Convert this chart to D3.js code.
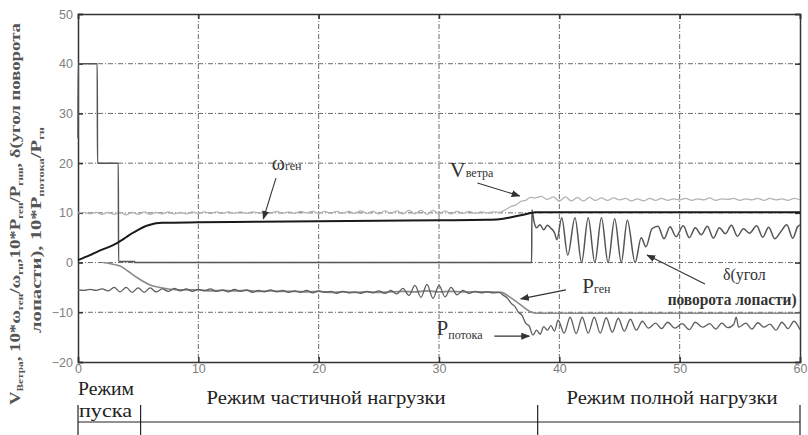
<!DOCTYPE html>
<html><head><meta charset="utf-8">
<script src="https://cdn.jsdelivr.net/npm/d3@7"></script>
<style>body{margin:0;background:#fff}svg{display:block}</style>
</head><body>
<svg id="c" width="808" height="435"></svg>
<script>
const xTicks = [0,10,20,30,40,50,60];
const yTicks = [-20,-10,0,10,20,30,40,50];
const gridX = [10,20,30,40,50];
const gridY = [-10,0,10,20,30,40];

// δ – blade pitch angle
const bladeAngle = [[0,25],[0.02,40],[1.6,40],[1.62,20],[3.35,20],[3.37,0.2],[4.7,0.2],[4.72,0],[37.7,0],[37.72,10.6],[37.9,8.2],[38.1,7.0],[38.4,7.6],[38.7,6.6],[39.0,7.5],[39.3,6.9],[39.6,6.0],[39.8,4.6],[40.2,9.0],[40.7,1.5],[41.3,9.0],[41.85,0],[42.4,9.0],[42.95,0],[43.5,9.0],[44.05,0],[44.6,8.8],[45.15,0],[45.65,8.5],[46.3,0],[46.8,5.0],[47.2,3.2],[47.7,6.8],[48.2,7.3],[48.7,4.8],[49.2,7.2],[49.7,5.2],[50.3,7.4],[50.8,5.0],[51.3,7.0],[51.8,5.6],[52.3,7.3],[52.8,4.9],[53.3,7.0],[53.8,5.8],[54.3,7.5],[54.8,5.3],[55.3,6.8],[55.8,5.9],[56.4,7.4],[56.9,5.1],[57.4,7.1],[57.9,4.8],[58.4,6.2],[58.9,7.6],[59.4,4.9],[59.8,7.2],[60,7.6]];

// ω_ген
const omegaGen = [[0,0.5],[1,1.5],[2,2.6],[3,3.6],[3.5,4.3],[4,5.1],[4.5,5.9],[5,6.6],[5.5,7.2],[6,7.6],[6.5,7.9],[7,8.0],[10,8.1],[15,8.2],[20,8.3],[25,8.4],[30,8.5],[34,8.6],[35,8.7],[36,9.1],[37,9.6],[37.7,10.0],[38,10.1],[60,10.1]];

// V_ветра
const windSpeed = [[0,10.0],[0.5,10.1],[1,9.8],[1.5,10.1],[2,9.7],[2.5,10.1],[3,9.7],[3.5,10.1],[4,9.6],[4.5,10.1],[5,9.7],[5.5,10.2],[6,9.7],[6.5,10.1],[7,9.8],[7.5,10.2],[8,9.8],[8.5,10.1],[9,9.8],[9.5,10.2],[10,9.9],[10.5,10.2],[11,9.9],[11.5,10.2],[12,9.9],[12.5,10.2],[13,9.9],[13.5,10.2],[14,9.9],[14.5,10.2],[15,10.0],[15.5,10.2],[16,9.9],[16.5,10.3],[17,9.9],[17.5,10.2],[18,9.9],[18.5,10.3],[19,10.0],[19.5,10.3],[20,9.9],[20.5,10.3],[21,9.9],[21.5,10.3],[22,9.9],[22.5,10.3],[23,9.9],[23.5,10.4],[24,9.9],[24.5,10.3],[25,9.8],[25.5,10.4],[26,9.9],[26.5,10.4],[27,9.8],[27.5,10.5],[28,9.8],[28.5,10.5],[29,9.7],[29.5,10.5],[30,9.8],[30.5,10.4],[31,9.8],[31.5,10.3],[32,9.9],[32.5,10.3],[33,9.9],[33.5,10.2],[34,10.0],[34.5,10.2],[35,10.1],[35.5,10.6],[36,11.3],[36.4,11.6],[36.8,12.3],[37.2,12.5],[37.6,13.1],[38,13.0],[38.5,13.3],[39,12.7],[39.5,13.2],[40,12.4],[40.5,13.2],[41,12.4],[41.5,13.1],[42,12.4],[42.5,13.1],[43,12.5],[43.5,13.0],[44,12.5],[44.5,13.0],[45,12.6],[45.5,12.9],[46,12.4],[46.5,12.8],[47,12.4],[47.5,12.9],[48,12.5],[48.5,12.9],[49,12.5],[49.5,12.8],[50,12.6],[50.5,12.9],[51,12.5],[51.5,12.8],[52,12.6],[52.5,13.0],[53,12.5],[53.5,12.8],[54,12.7],[54.5,12.9],[55,12.5],[55.5,12.8],[56,12.6],[56.5,12.9],[57,12.5],[57.5,12.9],[58,12.6],[58.5,12.8],[59,12.5],[59.5,12.9],[60,12.6]];

// P_ген
const powerGen = [[2.1,0],[2.8,-0.3],[3.5,-0.7],[4.2,-1.8],[4.9,-3.0],[5.5,-3.9],[6.1,-4.6],[6.8,-5.0],[7.5,-5.3],[8.5,-5.5],[10,-5.5],[11,-5.7],[12,-5.6],[13,-5.7],[14,-5.6],[15,-5.8],[16,-5.7],[17,-5.8],[18,-5.8],[19,-5.9],[20,-5.8],[21,-6.0],[22,-5.9],[23,-6.0],[24,-5.9],[25,-6.0],[26,-5.9],[27,-5.8],[28,-5.9],[29,-5.7],[30,-5.9],[31,-5.8],[32,-5.9],[33,-5.9],[34,-5.9],[35.2,-6.0],[35.8,-6.8],[36.4,-7.8],[37.0,-8.9],[37.6,-9.9],[38.2,-10.2],[60,-10.2]];

// P_потока
const powerFlow = [[0,-5.5],[0.5,-5.6],[1,-5.4],[1.5,-5.6],[2,-5.3],[2.5,-5.7],[3,-5.0],[3.5,-5.9],[4,-5.0],[4.5,-6.0],[5,-5.1],[5.5,-6.0],[6,-5.1],[6.5,-5.9],[7,-5.3],[7.5,-5.8],[8,-5.2],[8.5,-5.7],[9,-5.3],[9.5,-5.8],[10,-5.4],[10.5,-5.7],[11,-5.3],[11.5,-5.8],[12,-5.5],[12.5,-5.9],[13,-5.4],[13.5,-5.8],[14,-5.5],[14.5,-6.0],[15,-5.6],[15.5,-5.9],[16,-5.5],[16.5,-5.9],[17,-5.6],[17.5,-6.0],[18,-5.7],[18.5,-6.0],[19,-5.6],[19.5,-6.1],[20,-5.7],[20.5,-6.0],[21,-5.8],[21.5,-6.2],[22,-5.8],[22.5,-6.1],[23,-5.9],[23.5,-6.2],[24,-5.8],[24.5,-6.1],[25,-5.7],[25.5,-6.2],[26,-5.6],[26.5,-6.3],[27,-5.2],[27.5,-6.6],[28,-4.6],[28.5,-7.0],[29,-4.4],[29.5,-7.2],[30,-4.6],[30.5,-6.9],[31,-5.0],[31.5,-6.5],[32,-5.6],[32.5,-6.2],[33,-5.8],[33.5,-6.1],[34,-5.9],[34.5,-6.1],[35,-6.0],[35.3,-6.5],[35.7,-7.2],[36.0,-8.2],[36.3,-8.8],[36.6,-10.0],[36.9,-10.6],[37.2,-12.2],[37.5,-12.8],[37.8,-14.6],[38.1,-13.6],[38.4,-14.4],[38.7,-12.9],[39.0,-13.6],[39.3,-12.7],[39.6,-13.8],[39.9,-11.6],[40.4,-14.2],[40.9,-11.0],[41.4,-14.3],[41.9,-11.0],[42.4,-14.2],[42.9,-11.0],[43.4,-14.2],[43.9,-11.1],[44.4,-14.0],[44.9,-11.2],[45.4,-13.8],[45.9,-11.4],[46.4,-13.6],[46.9,-11.8],[47.4,-13.2],[48,-12.2],[48.5,-13.3],[49,-12.0],[49.6,-13.2],[50.2,-12.3],[50.8,-13.5],[51.3,-12.0],[51.9,-13.0],[52.5,-12.3],[53,-13.4],[53.5,-12.2],[54,-13.1],[54.5,-12.4],[54.7,-11.0],[54.9,-13.0],[55.5,-12.2],[56,-13.4],[56.5,-12.1],[57,-13.0],[57.5,-12.4],[58,-13.6],[58.5,-12.0],[59,-13.3],[59.5,-11.8],[60,-13.5]];

const modeBounds = [0, 5.2, 38.2, 60];

const svg = d3.select("#c");
const x = d3.scaleLinear().domain([0,60]).range([78,800]);
const y = d3.scaleLinear().domain([-20,50]).range([362,14]);
const serif = "'Liberation Serif','Times New Roman',serif";
const sans = "'Liberation Sans',Arial,sans-serif";

// grid
const g = svg.append("g");
g.selectAll(".gx").data(gridX).enter().append("line")
  .attr("x1",d=>x(d)).attr("x2",d=>x(d)).attr("y1",y(50)).attr("y2",y(-20))
  .attr("stroke","#6a6a6a").attr("stroke-width",1).attr("stroke-dasharray","5,2,1,2");
g.selectAll(".gy").data(gridY).enter().append("line")
  .attr("x1",x(0)).attr("x2",x(60)).attr("y1",d=>y(d)).attr("y2",d=>y(d))
  .attr("stroke","#6a6a6a").attr("stroke-width",1).attr("stroke-dasharray","5,2,1,2");

// axes
const axL = d3.axisLeft(y).tickValues(yTicks).tickSize(-5).tickPadding(5);
const axB = d3.axisBottom(x).tickValues(xTicks).tickSize(-5).tickPadding(2);
const axR = d3.axisRight(y).tickValues(yTicks).tickSize(-5).tickFormat("");
const axT = d3.axisTop(x).tickValues(xTicks).tickSize(-5).tickFormat("");
function styleAx(sel){
  sel.select(".domain").attr("stroke","#333").attr("stroke-width",1.5);
  sel.selectAll(".tick line").attr("stroke","#333").attr("stroke-width",1.5);
  sel.selectAll("text").attr("fill","#808080").style("font-family",sans).style("font-size","12.5px");
}
svg.append("g").attr("transform",`translate(${x(0)},0)`).call(axL).call(styleAx);
svg.append("g").attr("transform",`translate(0,${y(-20)})`).call(axB).call(styleAx);
svg.append("g").attr("transform",`translate(${x(60)},0)`).call(axR).call(styleAx);
svg.append("g").attr("transform",`translate(0,${y(50)})`).call(axT).call(styleAx);

// series
const line = d3.line().x(d=>x(d[0])).y(d=>y(d[1])).curve(d3.curveMonotoneX);
const series = [
  {data: windSpeed, color:"#b4b4b4", w:1.3},
  {data: powerGen, color:"#8a8a8a", w:1.6},
  {data: powerFlow, color:"#5e5e5e", w:1.3},
  {data: bladeAngle, color:"#555", w:1.5},
  {data: omegaGen, color:"#1a1a1a", w:2.0}
];
svg.selectAll(".s").data(series).enter().append("path")
  .attr("d",d=>line(d.data)).attr("fill","none")
  .attr("stroke",d=>d.color).attr("stroke-width",d=>d.w).attr("stroke-linejoin","round");

// arrow marker
svg.append("defs").append("marker").attr("id","ah")
  .attr("markerWidth",9).attr("markerHeight",7).attr("refX",8).attr("refY",3.5)
  .attr("orient","auto").attr("markerUnits","userSpaceOnUse")
  .append("path").attr("d","M0,0 L9,3.5 L0,7 z").attr("fill","#333");

const arrows = [
  [[16.45,17.0],[15.4,8.8]],
  [[33.2,16.0],[36.7,13.4]],
  [[40.55,-5.5],[36.8,-7.3]],
  [[34.6,-14.8],[37.5,-14.8]],
  [[52.1,-4.3],[47.3,1.5]]
];
svg.selectAll(".ar").data(arrows).enter().append("line")
  .attr("x1",d=>x(d[0][0])).attr("y1",d=>y(d[0][1]))
  .attr("x2",d=>x(d[1][0])).attr("y2",d=>y(d[1][1]))
  .attr("stroke","#333").attr("stroke-width",1.1).attr("marker-end","url(#ah)");

// labels with subscripts
const labels = [
  {t:16.1, v:18.6, main:"ω", sub:"ген", fs:20, subDy:0},
  {t:30.9, v:17.2, main:"V", sub:"ветра", fs:22, subDy:0},
  {t:41.9, v:-6.1, main:"P", sub:"ген", fs:21, subDy:0},
  {t:29.8, v:-14.6, main:"P", sub:"потока", fs:21, subDy:4}
];
labels.forEach(l=>{
  const t = svg.append("text").attr("x",x(l.t)).attr("y",y(l.v))
    .style("font-family",serif).attr("fill","#333");
  t.append("tspan").style("font-size",l.fs+"px").text(l.main);
  t.append("tspan").style("font-size","12px").attr("dy",l.subDy).text(l.sub);
});
svg.append("text").attr("x",x(53.6)).attr("y",y(-3.5))
  .style("font-family",serif).style("font-size","16px").attr("fill","#333").text("δ(угол");
svg.append("text").attr("x",x(49.0)).attr("y",y(-8.5))
  .style("font-family",serif).style("font-size","16px").style("font-weight","bold")
  .attr("fill","#333").attr("textLength",129).attr("lengthAdjust","spacingAndGlyphs").text("поворота лопасти)");

// y-axis label
function ylab(cx, cy, len, parts){
  const t = svg.append("text").attr("transform",`translate(${cx},${cy}) rotate(-90)`)
    .attr("text-anchor","middle").style("font-family",serif).style("font-weight","bold")
    .style("font-size","15px").attr("fill","#555")
    .attr("textLength",len).attr("lengthAdjust","spacingAndGlyphs");
  parts.forEach(p=>{
    const s = t.append("tspan").text(p[0]);
    if(p[1]) s.style("font-size","9px").attr("dy",3);
    else if(p[2]) s.attr("dy",-3);
  });
}
ylab(20, 214, 382, [["V"],["Ветра",1],[", 10*ω",0,1],["ген",1],["/ω",0,1],["гн",1],[",10*P",0,1],["ген",1],["/P",0,1],["гнн",1],[", δ(угол поворота",0,1]]);
ylab(41, 230, 206, [["лопасти), 10*P"],["потока",1],["/P",0,1],["гн",1]]);

// mode labels
svg.append("text").attr("x",x(0)).attr("y",395).style("font-family",serif).style("font-size","18px")
  .attr("fill","#222").attr("textLength",56).attr("lengthAdjust","spacingAndGlyphs").text("Режим");
svg.append("text").attr("x",x(0)+1).attr("y",417).style("font-family",serif).style("font-size","18px")
  .attr("fill","#222").attr("textLength",53).attr("lengthAdjust","spacingAndGlyphs").text("пуска");
svg.append("text").attr("x",326).attr("y",404).attr("text-anchor","middle").style("font-family",serif).style("font-size","19px")
  .attr("fill","#222").attr("textLength",239).attr("lengthAdjust","spacingAndGlyphs").text("Режим частичной нагрузки");
svg.append("text").attr("x",672).attr("y",404).attr("text-anchor","middle").style("font-family",serif).style("font-size","19px")
  .attr("fill","#222").attr("textLength",211).attr("lengthAdjust","spacingAndGlyphs").text("Режим полной нагрузки");

// bracket
svg.append("line").attr("x1",x(0)).attr("x2",x(60)).attr("y1",422).attr("y2",422).attr("stroke","#222").attr("stroke-width",1.2);
svg.selectAll(".mb").data(modeBounds).enter().append("line")
  .attr("x1",d=>x(d)).attr("x2",d=>x(d)).attr("y1",405).attr("y2",435)
  .attr("stroke","#222").attr("stroke-width",1.2);
</script>
</body></html>
